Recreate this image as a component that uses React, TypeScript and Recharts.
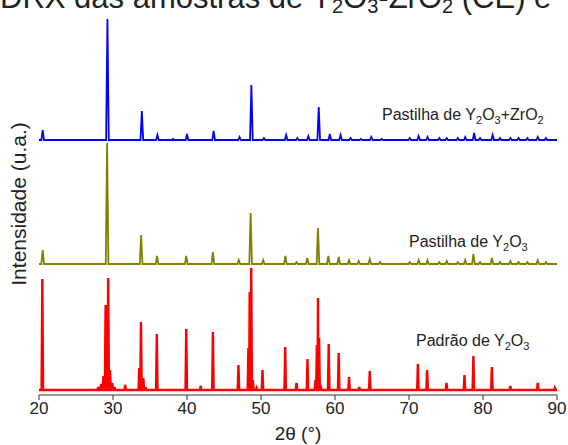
import React from "react";
import { LineChart, Line, XAxis, YAxis } from "recharts";

// ─── Data (intensities in arbitrary units) ───────────────────────────────────

const TWO_THETA_TICKS = [20, 30, 40, 50, 60, 70, 80, 90];

// vertical offsets of each stacked pattern
const PADRAO_BASE = 5;
const PASTILHA_BASE = 131;
const MISTURA_BASE = 255;

// Padrão de Y2O3 (reference stick pattern)
const PADRAO_POS = [
  20.45, 28.0, 28.4, 28.7, 29.0, 29.35, 29.6, 29.9, 30.2, 31.65, 33.55, 33.78, 34.1, 34.4,
  35.92, 39.9, 41.85, 43.5, 46.95, 48.3, 48.47, 48.68, 48.9, 49.4, 50.2, 53.27, 54.8,
  56.28, 57.35, 57.55, 57.7, 57.85, 58.05, 59.15, 60.5, 61.9, 63.27, 64.7, 71.2, 72.45,
  75.07, 77.5, 78.7, 81.2, 83.7, 87.4, 89.7,
];
const PADRAO_INT = [
  111, 3, 6, 14, 85, 112, 20, 7, 3, 5, 22, 68, 12, 3,
  56, 61, 4, 58, 25, 42, 98, 122, 10, 2, 20, 43, 7,
  31, 10, 45, 92, 52, 5, 46, 37, 13, 3, 19, 26, 20,
  7, 15, 34, 23, 4, 7, 2,
];

// Pastilha de Y2O3
const PASTILHA_POS = [
  20.5, 29.2, 33.8, 35.95, 39.9, 43.5, 47.0, 48.6, 50.3, 53.3, 54.8, 56.25, 57.7,
  59.1, 60.5, 61.9, 63.2, 64.7, 66.1, 70.1, 71.3, 72.5, 74.1, 75.1, 76.6, 77.6,
  78.7, 79.6, 81.2, 82.3, 83.7, 84.8, 86.0, 87.4, 88.5,
];
const PASTILHA_INT = [
  14, 121, 29, 8, 8, 12, 4, 51, 4, 8, 2, 6, 36,
  8, 7, 4, 3, 5, 2, 2, 4, 4, 2, 3, 2, 4,
  10, 2, 6, 2, 3, 2, 2, 4, 2,
];

// Pastilha de Y2O3+ZrO2
const MISTURA_POS = [
  20.5, 29.25, 33.9, 36.0, 38.1, 40.0, 43.6, 47.1, 48.7, 50.4, 53.4, 54.9, 56.4,
  57.8, 59.3, 60.75, 62.1, 63.5, 64.9, 66.3, 70.1, 71.3, 72.5, 74.1, 75.1, 76.6,
  77.6, 78.8, 79.6, 81.3, 82.3, 83.7, 84.8, 86.0, 87.4, 88.5,
];
const MISTURA_INT = [
  10, 121, 29, 5, 1, 6, 9, 3, 55, 2, 5, 2, 4,
  33, 6, 5, 2, 1, 3, 1, 2, 4, 3, 2, 2, 2,
  3, 7, 2, 5, 2, 2, 2, 2, 3, 2,
];

// spike feet either side of each peak
function buildProfile(pos: number[], ints: number[], base: number, halfWidth: number) {
  const pts: { x: number; y: number }[] = [{ x: 20, y: base }];
  pos.forEach((p, i) => {
    pts.push({ x: p - halfWidth, y: base });
    pts.push({ x: p, y: base + ints[i] });
    pts.push({ x: p + halfWidth, y: base });
  });
  pts.push({ x: 90, y: base });
  return pts.sort((a, b) => a.x - b.x);
}

const padraoData = buildProfile(PADRAO_POS, PADRAO_INT, PADRAO_BASE, 0.1);
const pastilhaData = buildProfile(PASTILHA_POS, PASTILHA_INT, PASTILHA_BASE, 0.18);
const misturaData = buildProfile(MISTURA_POS, MISTURA_INT, MISTURA_BASE, 0.18);

const FONT = "'Liberation Sans', Arial, sans-serif";
const FRAME = "#333";

function Formula({ parts, sub = 11, shift = 4 }: { parts: [string, string][]; sub?: number; shift?: number }) {
  // parts: [normal text, subscript]
  return (
    <>
      {parts.map(([t, s], i) => (
        <React.Fragment key={i}>
          <tspan dy={i === 0 ? 0 : -shift}>{t}</tspan>
          {s ? (
            <tspan fontSize={sub} dy={shift}>
              {s}
            </tspan>
          ) : null}
        </React.Fragment>
      ))}
    </>
  );
}

export default function App() {
  return (
    <div style={{ position: "absolute", left: 0, top: 0, width: 568, height: 445, overflow: "hidden", background: "#fff" }}>
      <LineChart
        width={568}
        height={445}
        margin={{ top: 13, right: 11, bottom: 0, left: 39 }}
        style={{ fontFamily: FONT }}
      >
        <XAxis
          dataKey="x"
          type="number"
          domain={[20, 90]}
          ticks={TWO_THETA_TICKS}
          allowDataOverflow
          height={50}
          tickSize={5}
          tick={{ fontSize: 17, fill: "#222" }}
          axisLine={{ stroke: FRAME }}
          tickLine={{ stroke: FRAME }}
        />
        <XAxis
          xAxisId="top"
          orientation="top"
          type="number"
          domain={[20, 90]}
          height={0}
          tick={false}
          tickLine={false}
          axisLine={{ stroke: FRAME }}
        />
        <YAxis type="number" domain={[0, 382]} width={0} tick={false} tickLine={false} axisLine={{ stroke: FRAME }} />
        <YAxis
          yAxisId="right"
          orientation="right"
          type="number"
          domain={[0, 382]}
          width={0}
          tick={false}
          tickLine={false}
          axisLine={{ stroke: FRAME }}
        />

        <Line data={padraoData} dataKey="y" type="linear" stroke="#ff0000" strokeWidth={2.4} dot={false} isAnimationActive={false} />
        <Line data={pastilhaData} dataKey="y" type="linear" stroke="#808000" strokeWidth={1.8} dot={false} isAnimationActive={false} />
        <Line data={misturaData} dataKey="y" type="linear" stroke="#0000ff" strokeWidth={1.8} dot={false} isAnimationActive={false} />
      </LineChart>

      <svg width={568} height={445} style={{ position: "absolute", left: 0, top: 0, pointerEvents: "none" }} fontFamily={FONT}>
        <text x={0} y={8} fontSize="31" fill="#222">
          <Formula parts={[["DRX das amostras de Y", "2"], ["O", "3"], ["-ZrO", "2"], [" (CE) e", ""]]} sub={20} shift={5} />
        </text>

        <text transform="translate(26,204) rotate(-90)" textAnchor="middle" fontSize="21" fill="#222">
          Intensidade (u.a.)
        </text>
        <text x={298} y={440} textAnchor="middle" fontSize="19" fill="#222">
          2θ (°)
        </text>

        <text x={382} y={120} fontSize="16" fill="#222">
          <Formula parts={[["Pastilha de Y", "2"], ["O", "3"], ["+ZrO", "2"]]} />
        </text>
        <text x={409} y={247} fontSize="16" fill="#222">
          <Formula parts={[["Pastilha de Y", "2"], ["O", "3"]]} />
        </text>
        <text x={416} y={346} fontSize="16" fill="#222">
          <Formula parts={[["Padrão de Y", "2"], ["O", "3"]]} />
        </text>
      </svg>
    </div>
  );
}
